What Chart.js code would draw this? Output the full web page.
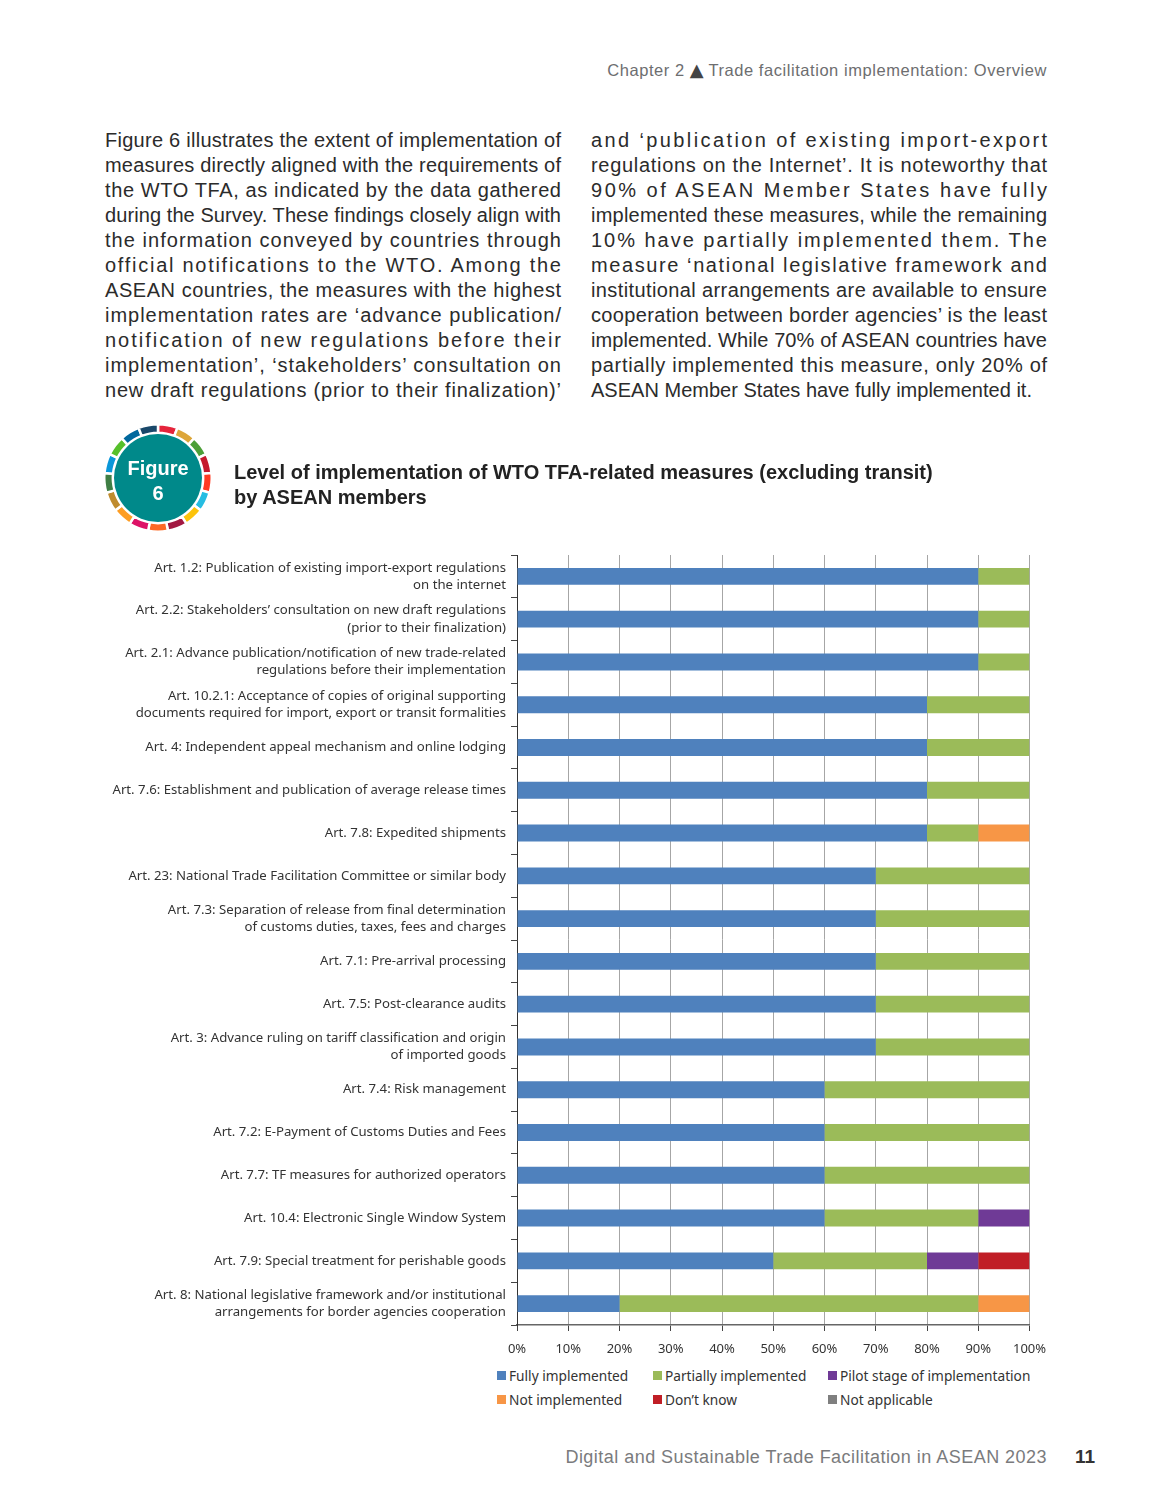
<!DOCTYPE html>
<html>
<head>
<meta charset="utf-8">
<title>Figure 6</title>
<script src="https://cdn.jsdelivr.net/npm/chart.js@4/dist/chart.umd.min.js"></script>
<style>
html, body { margin: 0; padding: 0; background: #fff; }
#page { position: relative; width: 1152px; height: 1512px; overflow: hidden; font-family: "Liberation Sans", sans-serif; color: #2b2b2b; }
.line { position: absolute; font-size: 20px; line-height: 25px; height: 25px; white-space: nowrap; }
.abs { position: absolute; white-space: nowrap; }
#chartCanvas { position: absolute; left: 0; top: 540px; }
#ringCanvas { position: absolute; left: 103px; top: 423px; }
#disc { position: absolute; left: 114px; top: 434px; width: 88px; height: 88px; border-radius: 50%; background: #00898a; }
.leg { position: absolute; font: 13.7px "Noto Sans", sans-serif; color: #333; white-space: nowrap; }
.sw { position: absolute; width: 9px; height: 9px; }
</style>
</head>
<body>
<div id="page">
  <div class="abs" style="right:105px;top:59px;font-size:16.5px;line-height:22px;letter-spacing:0.55px;color:#6d6e70;">Chapter 2 <span style="font-family:'DejaVu Sans';font-size:18px;color:#444;letter-spacing:0;">&#9650;</span> Trade facilitation implementation: Overview</div>

  <canvas id="ringCanvas" width="110" height="110"></canvas>
  <div id="disc"></div>
  <div class="abs" style="left:114px;width:88px;top:456px;text-align:center;color:#fff;font-weight:bold;font-size:20px;line-height:25px;">Figure<br>6</div>

  <div class="abs" style="left:234px;top:460px;font-weight:bold;font-size:20px;line-height:25px;color:#222;">Level of implementation of WTO TFA-related measures (excluding transit)<br>by ASEAN members</div>

  <canvas id="chartCanvas" width="1152" height="825"></canvas>

  <div class="abs" style="right:105px;top:1445px;font-size:18px;line-height:24px;letter-spacing:0.47px;color:#7a7b7d;">Digital and Sustainable Trade Facilitation in ASEAN 2023</div>
  <div class="abs" style="left:1075px;top:1445px;font-size:19px;line-height:24px;font-weight:bold;color:#333;">11</div>
</div>

<script>
const leftColumn = [
    'Figure 6 illustrates the extent of implementation of',
    'measures directly aligned with the requirements of',
    'the WTO TFA, as indicated by the data gathered',
    'during the Survey. These findings closely align with',
    'the information conveyed by countries through',
    'official notifications to the WTO. Among the',
    'ASEAN countries, the measures with the highest',
    'implementation rates are ‘advance publication/',
    'notification of new regulations before their',
    'implementation’, ‘stakeholders’ consultation on',
    'new draft regulations (prior to their finalization)’'
];
const rightColumn = [
    'and ‘publication of existing import-export',
    'regulations on the Internet’. It is noteworthy that',
    '90% of ASEAN Member States have fully',
    'implemented these measures, while the remaining',
    '10% have partially implemented them. The',
    'measure ‘national legislative framework and',
    'institutional arrangements are available to ensure',
    'cooperation between border agencies’ is the least',
    'implemented. While 70% of ASEAN countries have',
    'partially implemented this measure, only 20% of',
    'ASEAN Member States have fully implemented it.'
];

const categories = [
    ['Art. 1.2: Publication of existing import-export regulations', 'on the internet'],
    ['Art. 2.2: Stakeholders’ consultation on new draft regulations', '(prior to their finalization)'],
    ['Art. 2.1: Advance publication/notification of new trade-related', 'regulations before their implementation'],
    ['Art. 10.2.1: Acceptance of copies of original supporting', 'documents required for import, export or transit formalities'],
    'Art. 4: Independent appeal mechanism and online lodging',
    'Art. 7.6: Establishment and publication of average release times',
    'Art. 7.8: Expedited shipments',
    'Art. 23: National Trade Facilitation Committee or similar body',
    ['Art. 7.3: Separation of release from final determination', 'of customs duties, taxes, fees and charges'],
    'Art. 7.1: Pre-arrival processing',
    'Art. 7.5: Post-clearance audits',
    ['Art. 3: Advance ruling on tariff classification and origin', 'of imported goods'],
    'Art. 7.4: Risk management',
    'Art. 7.2: E-Payment of Customs Duties and Fees',
    'Art. 7.7: TF measures for authorized operators',
    'Art. 10.4: Electronic Single Window System',
    'Art. 7.9: Special treatment for perishable goods',
    ['Art. 8: National legislative framework and/or institutional', 'arrangements for border agencies cooperation']
];

const fullyImplemented = [90, 90, 90, 80, 80, 80, 80, 70, 70, 70, 70, 70, 60, 60, 60, 60, 50, 20];
const partiallyImplemented = [10, 10, 10, 20, 20, 20, 10, 30, 30, 30, 30, 30, 40, 40, 40, 30, 30, 70];
const pilotStage = [0, 0, 0, 0, 0, 0, 0, 0, 0, 0, 0, 0, 0, 0, 0, 10, 10, 0];
const notImplemented = [0, 0, 0, 0, 0, 0, 10, 0, 0, 0, 0, 0, 0, 0, 0, 0, 0, 10];
const dontKnow = [0, 0, 0, 0, 0, 0, 0, 0, 0, 0, 0, 0, 0, 0, 0, 0, 10, 0];
const notApplicable = [0, 0, 0, 0, 0, 0, 0, 0, 0, 0, 0, 0, 0, 0, 0, 0, 0, 0];

const seriesNames = ['Fully implemented', 'Partially implemented', 'Pilot stage of implementation', 'Not implemented', 'Don’t know', 'Not applicable'];
const seriesColors = ['#4f81bd', '#9bbb59', '#6f3a96', '#f79646', '#c01e26', '#7f7f7f'];
const seriesValues = [fullyImplemented, partiallyImplemented, pilotStage, notImplemented, dontKnow, notApplicable];

const ringColors = ['#e5243b', '#dda63a', '#4c9f38', '#c5192d', '#ff3a21', '#26bde2', '#fcc30b', '#a21942', '#fd6925', '#dd1367', '#fd9d24', '#bf8b2e', '#3f7e44', '#0a97d9', '#56c02b', '#00689d', '#19486a'];
const ringValues = [1, 1, 1, 1, 1, 1, 1, 1, 1, 1, 1, 1, 1, 1, 1, 1, 1];

const page = document.getElementById('page');

// 본문 두 단: 줄마다 자간을 맞춰 단 폭을 채운다
function addColumn(lines, left, lastWidth) {
    lines.forEach((text, i) => {
        const div = document.createElement('div');
        div.className = 'line';
        div.style.left = left + 'px';
        div.style.top = (128 + i * 25) + 'px';
        div.textContent = text;
        page.appendChild(div);
        const target = (i === lines.length - 1 && lastWidth) ? lastWidth : 456;
        const natural = div.getBoundingClientRect().width;
        div.style.letterSpacing = ((target - natural) / (text.length - 1)) + 'px';
    });
}
addColumn(leftColumn, 105);
addColumn(rightColumn, 591, 441);

// 범례
const legendX = [497, 653, 828, 497, 653, 828];
const legendY = [1376, 1376, 1376, 1400, 1400, 1400];
seriesNames.forEach((name, i) => {
    const sw = document.createElement('div');
    sw.className = 'sw';
    sw.style.left = legendX[i] + 'px';
    sw.style.top = (legendY[i] - 5) + 'px';
    sw.style.background = seriesColors[i];
    page.appendChild(sw);
    const label = document.createElement('div');
    label.className = 'leg';
    label.style.left = (legendX[i] + 12) + 'px';
    label.style.top = (legendY[i] - 10) + 'px';
    label.style.lineHeight = '20px';
    label.textContent = name;
    page.appendChild(label);
});

new Chart(document.getElementById('ringCanvas').getContext('2d'), {
    type: 'doughnut',
    data: {
        labels: ringColors,
        datasets: [{ data: ringValues, backgroundColor: ringColors, borderColor: '#fff', borderWidth: 2.5 }]
    },
    options: {
        responsive: false,
        animation: false,
        cutout: '84%',
        rotation: 0,
        plugins: { legend: { display: false }, tooltip: { enabled: false } }
    }
});

new Chart(document.getElementById('chartCanvas').getContext('2d'), {
    type: 'bar',
    data: {
        labels: categories,
        datasets: seriesNames.map((name, i) => ({
            label: name,
            data: seriesValues[i],
            backgroundColor: seriesColors[i],
            categoryPercentage: 1,
            barPercentage: 0.395
        }))
    },
    options: {
        indexAxis: 'y',
        responsive: false,
        animation: false,
        layout: { autoPadding: false, padding: { top: 15, right: 122.5, left: 0, bottom: 0 } },
        plugins: { legend: { display: false }, tooltip: { enabled: false } },
        scales: {
            x: {
                stacked: true,
                min: 0,
                max: 100,
                afterFit: scale => { scale.height = 40; },
                grid: { color: '#a6a6a6', lineWidth: 1, tickLength: 6, tickColor: '#444' },
                border: { color: '#666', width: 1.5 },
                ticks: {
                    stepSize: 10,
                    maxRotation: 0,
                    autoSkip: false,
                    color: '#333',
                    padding: 10,
                    font: { family: 'Noto Sans', size: 13 },
                    callback: value => value + '%'
                }
            },
            y: {
                stacked: true,
                afterFit: scale => {
                    scale.width = 517;
                    scale.paddingTop = 0;
                    scale.paddingBottom = 0;
                },
                grid: { drawOnChartArea: false, drawTicks: true, tickLength: 6, offset: true, tickColor: '#444' },
                border: { color: '#333', width: 1 },
                ticks: {
                    autoSkip: false,
                    color: '#333',
                    padding: 5,
                    font: { family: 'Noto Sans', size: 13.2, lineHeight: 1.3 }
                }
            }
        }
    }
});
</script>
</body>
</html>
